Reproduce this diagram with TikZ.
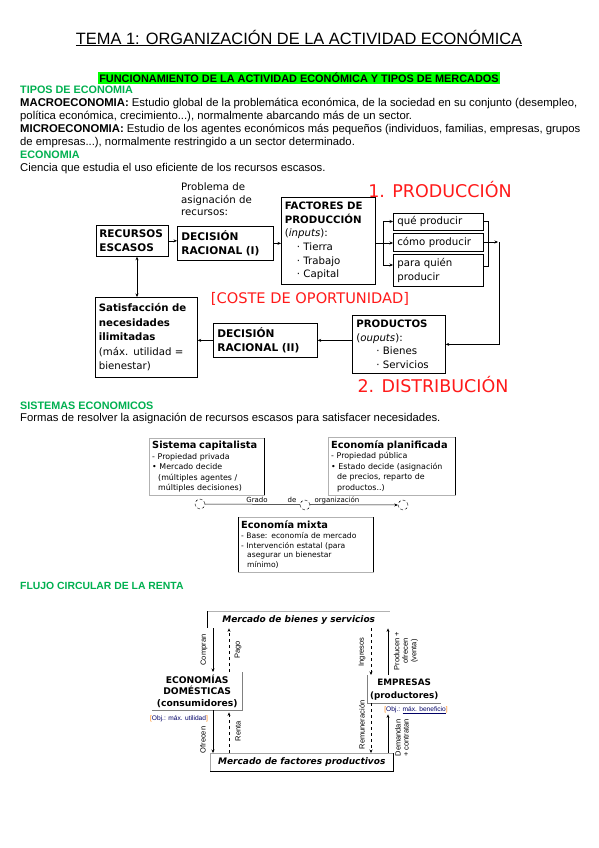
\documentclass[tikz,border=0pt]{standalone}
\usepackage{fontspec}
\setmainfont{Liberation Sans}
\newfontfamily\comic{DejaVu Sans}
\usetikzlibrary{arrows.meta}
\definecolor{hdgreen}{HTML}{00B050}
\definecolor{hilite}{HTML}{00FF00}
\definecolor{rred}{HTML}{FF1A1A}
\newcommand{\fsz}[2]{\fontsize{#1}{#2}\selectfont}
\begin{document}
\begin{tikzpicture}[x=1pt,y=-1pt,
  arr/.style={-{Stealth[length=3.5pt,width=3pt]}, line width=0.6pt},
  darr/.style={{Stealth[length=3.5pt,width=3pt]}-{Stealth[length=3.5pt,width=3pt]}, line width=0.6pt},
  line/.style={line width=0.6pt},
  bx/.style={draw, line width=0.7pt, anchor=north west, inner xsep=4pt, inner ysep=0pt, align=left},
  sbx/.style={draw=gray!60, line width=0.4pt, anchor=north west, inner xsep=3pt, inner ysep=0pt, align=left, font=\comic\fsz{7.9}{10.6}},
  sbt/.style={font=\comic\bfseries\fsz{9.8}{11}},
  bodyl/.style={anchor=base west, inner sep=0pt, font=\fsz{11.3}{12}},
  greenh/.style={anchor=base west, inner sep=0pt, font=\bfseries\fsz{10.8}{12}, text=hdgreen},
  redt/.style={font=\comic\fsz{17.5}{20}, text=rred, inner sep=0pt},
  circ/.style={circle, draw, densely dashed, minimum size=10pt, inner sep=0pt, line width=0.4pt, fill=white},
  rlab/.style={rotate=90, font=\fsz{7.5}{8.5}, inner sep=0pt, align=center},
  tiny/.style={font=\comic\fsz{7}{8}, inner sep=0pt}
]
\useasboundingbox[fill=white] (0,0) rectangle (599,848);

% ---------- title & text ----------
\node[font=\fsz{16.4}{20}, inner sep=0pt] (title) at (299,38) {\underline{TEMA 1: ORGANIZACIÓN DE LA ACTIVIDAD ECONÓMICA}};
\node[fill=hilite, inner xsep=1pt, inner ysep=1.5pt, font=\bfseries\fsz{10.9}{12}] (func) at (299,78) {FUNCIONAMIENTO DE LA ACTIVIDAD ECONÓMICA Y TIPOS DE MERCADOS};
\node[greenh] (tipos) at (20,94) {TIPOS DE ECONOMIA};
\node[bodyl] (l1) at (20,107) {\textbf{MACROECONOMIA:} Estudio global de la problemática económica, de la sociedad en su conjunto (desempleo,};
\node[bodyl] (l2) at (20,119.8) {política económica, crecimiento...), normalmente abarcando más de un sector.};
\node[bodyl] (l3) at (20,132.6) {\textbf{MICROECONOMIA:} Estudio de los agentes económicos más pequeños (individuos, familias, empresas, grupos};
\node[bodyl] (l4) at (20,145.4) {de empresas...), normalmente restringido a un sector determinado.};
\node[greenh] (econ) at (20,158.2) {ECONOMIA};
\node[bodyl] (l5) at (20,171) {Ciencia que estudia el uso eficiente de los recursos escasos.};

% ---------- diagram 1 ----------
\node[anchor=north west, inner sep=0pt, align=left, font=\comic\fsz{10.2}{12.5}] (prob) at (181,183) {Problema de\\asignación de\\recursos:};
\node[bx, inner xsep=3pt, minimum width=71pt, minimum height=31pt, text width=66pt, font=\comic\bfseries\fsz{10.5}{14}] (rec) at (96,225) {RECURSOS\\ESCASOS};
\node[bx, minimum width=96pt, minimum height=34pt, text width=88pt, font=\comic\bfseries\fsz{10.6}{14}] (dec1) at (177,226) {DECISIÓN\\RACIONAL (I)};
\node[bx, minimum width=94pt, minimum height=87pt, text width=87pt, inner xsep=3.5pt, font=\comic\fsz{10.2}{13.7}] (fac) at (281,197) {\textbf{FACTORES DE}\\\textbf{PRODUCCIÓN}\\(\textit{inputs}):\\\hspace*{12pt}· Tierra\\\hspace*{12pt}· Trabajo\\\hspace*{12pt}· Capital};
\node[redt] (p1) at (440,190) {1. PRODUCCIÓN};
\node[bx, minimum width=90pt, minimum height=17pt, text width=82pt, font=\comic\fsz{10.2}{13}] (q1) at (393,213) {qué producir};
\node[bx, minimum width=90pt, minimum height=18pt, text width=82pt, font=\comic\fsz{10.2}{13}] (q2) at (393,233) {cómo producir};
\node[bx, minimum width=90pt, minimum height=32pt, text width=82pt, font=\comic\fsz{10.2}{14}] (q3) at (393,254) {para quién\\producir};
\node[bx, minimum width=93pt, minimum height=58pt, text width=85pt, font=\comic\fsz{10.2}{13.7}] (prod) at (352,315) {\textbf{PRODUCTOS}\\(\textit{ouputs}):\\\hspace*{20pt}· Bienes\\\hspace*{20pt}· Servicios};
\node[redt] (p2) at (433,385) {2. DISTRIBUCIÓN};
\node[font=\comic\fsz{14.6}{16}, text=rred, inner sep=0pt] (coste) at (310,299) {[COSTE DE OPORTUNIDAD]};
\node[bx, minimum width=104pt, minimum height=34pt, text width=96pt, font=\comic\bfseries\fsz{10.6}{14}] (dec2) at (213,323) {DECISIÓN\\RACIONAL (II)};
\node[bx, minimum width=102pt, minimum height=80pt, text width=95pt, inner xsep=3.5pt, font=\comic\fsz{10.2}{14.5}] (sat) at (95,297) {\textbf{Satisfacción de}\\\textbf{necesidades}\\\textbf{ilimitadas}\\(máx. utilidad =\\bienestar)};

\coordinate (bl) at (383,243);
\coordinate (bl1) at (383,221.5);
\coordinate (bl3) at (383,265);
\coordinate (br1) at (488,221.5);
\coordinate (br3) at (488,266);
\coordinate (rj) at (499,242);
\coordinate (xd) at (137,0);

\draw[arr] (rec.east) -- (rec.east -| dec1.west);
\draw[arr] (dec1.east) -- (dec1.east -| fac.west);
\draw[line] (fac.east |- bl) -- (bl);
\draw[line] (bl1) -- (bl3);
\draw[arr] (bl1) -- (q1.west |- bl1);
\draw[arr] (bl) -- (q2.west |- bl);
\draw[arr] (bl3) -- (q3.west |- bl3);
\draw[line] (q1.east |- br1) -- (br1) -- (br3) -- (q3.east |- br3);
\draw[arr] (q2.east |- rj) -- ([xshift=-1pt]rj);
\draw[arr] (rj) |- (prod.east);
\draw[arr] (dec2.east -| prod.west) -- (dec2.east);
\draw[arr] (dec2.west) -- (dec2.west -| sat.east);
\draw[darr] (rec.south -| xd) -- (sat.north -| xd);

% ---------- sistemas economicos ----------
\node[greenh] (sist) at (20,409) {SISTEMAS ECONOMICOS};
\node[bodyl] (formas) at (20,421.5) {Formas de resolver la asignación de recursos escasos para satisfacer necesidades.};

\node[sbx, minimum width=115pt, minimum height=57pt, text width=109pt] (cap) at (149,438) {\textbf{\fsz{9.8}{11}Sistema capitalista}\\- Propiedad privada\\• Mercado decide\\\hspace*{6pt}(múltiples agentes /\\\hspace*{6pt}múltiples decisiones)};
\node[sbx, minimum width=127pt, minimum height=58pt, text width=121pt] (plan) at (328,437) {\textbf{\fsz{9.8}{11}Economía planificada}\\- Propiedad pública\\• Estado decide (asignación\\\hspace*{6pt}de precios, reparto de\\\hspace*{6pt}productos..)};
\node[sbx, minimum width=135pt, minimum height=55pt, text width=129pt, font=\comic\fsz{7.6}{9.6}] (mix) at (238,517) {\textbf{\fsz{9.8}{11}Economía mixta}\\- Base: economía de mercado\\- Intervención estatal (para\\\hspace*{6pt}asegurar un bienestar\\\hspace*{6pt}mínimo)};
\draw[line width=0.9pt] (cap.north east) -- (cap.south east);
\draw[line width=0.9pt] (plan.north east) -- (plan.south east);
\draw[line width=0.9pt] (mix.north west) -- (mix.south west);
\draw[line width=0.9pt] (mix.north east) -- (mix.south east);

\node[circ] (c1) at (200,504) {};
\node[circ] (c3) at (403,505) {};
\draw[arr, line width=0.5pt] (c1.east) -- (c3.west);
\node[circ] (c2) at (305,505) {};
\node[tiny] (g1) at (257,500) {Grado};
\node[tiny] (g2) at (292,500) {de};
\node[tiny] (g3) at (337,500) {organización};

% ---------- flujo circular ----------
\node[greenh, font=\bfseries\fsz{10.4}{12}] (flujo) at (20,589) {FLUJO CIRCULAR DE LA RENTA};

\node[anchor=north west, minimum width=183pt, minimum height=17pt, inner sep=0pt, font=\comic\bfseries\fsz{9}{10}] (mbs) at (207,611) {\textit{Mercado de bienes y servicios}};
\draw[gray!60, line width=0.5pt] (mbs.north west) -- (mbs.north east);
\draw[line width=0.8pt] (mbs.north west) -- (mbs.south west);

\node[anchor=north west, minimum width=90pt, minimum height=38pt, inner sep=0pt, align=center, font=\comic\bfseries\fsz{9.2}{11.5}] (eco) at (152,672) {ECONOMÍAS\\DOMÉSTICAS\\(consumidores)};
\draw[gray, line width=0.6pt] (eco.north east) -- (eco.south east) -- (eco.south west);
\node[tiny, font=\fsz{6.6}{7}, text=blue!40!black] (objc) at (179,719) {\textcolor{orange}{[}Obj.: máx. utilidad\textcolor{orange}{]}};

\node[anchor=north west, minimum width=74pt, minimum height=28pt, inner sep=0pt, align=center, font=\comic\bfseries\fsz{8.8}{13}] (emp) at (367,675) {EMPRESAS\\(productores)};
\draw[gray, line width=0.6pt] (emp.north west) -- (emp.south west) -- (emp.south east);
\node[tiny, font=\fsz{6.6}{7}, text=blue!40!black] (obje) at (416,710) {\textcolor{orange}{[}Obj.: \underline{máx. beneficio}\textcolor{orange}{]}};

\node[draw=gray!70, line width=0.5pt, anchor=north west, minimum width=183pt, minimum height=18pt, inner sep=0pt, font=\comic\bfseries\fsz{9}{10}] (mfp) at (210,753) {\textit{Mercado de factores productivos}};
\draw[line width=0.9pt] (mfp.north east) -- (mfp.south east) -- (mfp.south west);

\coordinate (xl1) at (213,0);
\coordinate (xl2) at (229,0);
\coordinate (xr1) at (371,0);
\coordinate (xr2) at (388,0);

\draw[arr] (mbs.south -| xl1) -- (eco.north -| xl1);
\draw[arr, dashed] (eco.north -| xl2) -- (mbs.south -| xl2);
\draw[arr] (eco.south -| xl1) -- (mfp.north -| xl1);
\draw[arr, dashed] (mfp.north -| xl2) -- ([yshift=-2pt]eco.south -| xl2);
\draw[arr, dashed] (mbs.south -| xr1) -- (emp.north -| xr1);
\draw[arr] (emp.north -| xr2) -- (mbs.south -| xr2);
\draw[arr, dashed] (emp.south -| xr1) -- (mfp.north -| xr1);
\draw[arr] (mfp.north -| xr2) -- ([yshift=-11pt]emp.south -| xr2);

\node[rlab] (lcomp) at (204,650) {Compran};
\node[rlab] (lpago) at (238,650) {Pago};
\node[rlab] (lofr) at (203,740) {Ofrecen};
\node[rlab] (lrent) at (238,731) {Renta};
\node[rlab] (ling) at (362,652) {Ingresos};
\node[rlab, font=\fsz{7.5}{8.5}] (lprod) at (406,651) {Producen +\\ofrecen\\(venta)};
\node[rlab] (lrem) at (362,725) {Remuneración};
\node[rlab, font=\fsz{7.5}{8}] (ldem) at (402,738) {Demandan\\+ contratan};
\end{tikzpicture}
\end{document}
